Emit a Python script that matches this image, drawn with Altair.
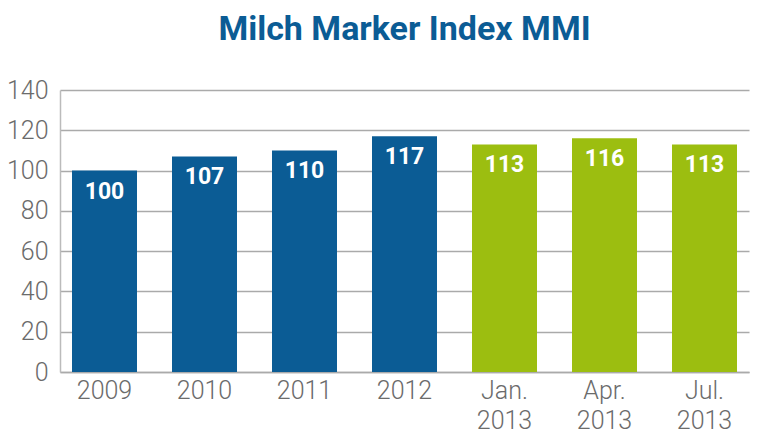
import altair as alt
import pandas as pd

categories = ["2009", "2010", "2011", "2012", "Jan.|2013", "Apr.|2013", "Jul.|2013"]
values = [100, 107, 110, 117, 113, 116, 113]
kinds = ["Jahr", "Jahr", "Jahr", "Jahr", "Monat", "Monat", "Monat"]
y_ticks = [0, 20, 40, 60, 80, 100, 120, 140]

df = pd.DataFrame({"cat": categories, "value": values, "kind": kinds})

x = alt.X(
    "cat:N",
    sort=categories,
    title=None,
    scale=alt.Scale(paddingInner=0.35, paddingOuter=0.12),
    axis=alt.Axis(
        labelExpr="split(datum.label, '|')",
        labelAngle=0,
        labelFont="Roboto",
        labelFontWeight=300,
        labelFontSize=25,
        labelColor="#6b6b6b",
        labelLineHeight=30,
        labelPadding=6,
        ticks=False,
        domainColor="#aaaaaa",
        domainWidth=1.5,
        labelBaseline="top",
    ),
)
y = alt.Y(
    "value:Q",
    title=None,
    scale=alt.Scale(domain=[0, 140], nice=False),
    axis=alt.Axis(
        values=y_ticks,
        labelFont="Roboto",
        labelFontWeight=300,
        labelFontSize=25,
        labelColor="#6b6b6b",
        labelPadding=12,
        ticks=False,
        gridColor="#aaaaaa",
        gridWidth=1.5,
        domainColor="#bbbbbb",
        domainWidth=1.5,
    ),
)

bars = alt.Chart(df).mark_bar().encode(
    x=x,
    y=y,
    color=alt.Color(
        "kind:N",
        scale=alt.Scale(domain=["Jahr", "Monat"], range=["#0b5c95", "#9cbe10"]),
        legend=None,
    ),
)

labels = alt.Chart(df).mark_text(
    baseline="middle",
    dy=21,
    font="Roboto",
    fontWeight="bold",
    fontSize=23,
    color="white",
).encode(x=alt.X("cat:N", sort=categories), y="value:Q", text="value:Q")

chart = (
    alt.layer(bars, labels)
    .properties(
        width=689,
        height=282,
        autosize=alt.AutoSizeParams(type="none"),
        padding={"left": 52, "top": 82, "right": 11, "bottom": 68},
        title=alt.Title(
            "Milch Marker Index MMI",
            font="Roboto",
            fontWeight="bold",
            fontSize=34,
            color="#0b5c95",
            anchor="middle",
            offset=31,
        ),
    )
    .configure_view(stroke=None)
)

chart.save("out.html", embed_options={"renderer": "svg", "actions": False})
